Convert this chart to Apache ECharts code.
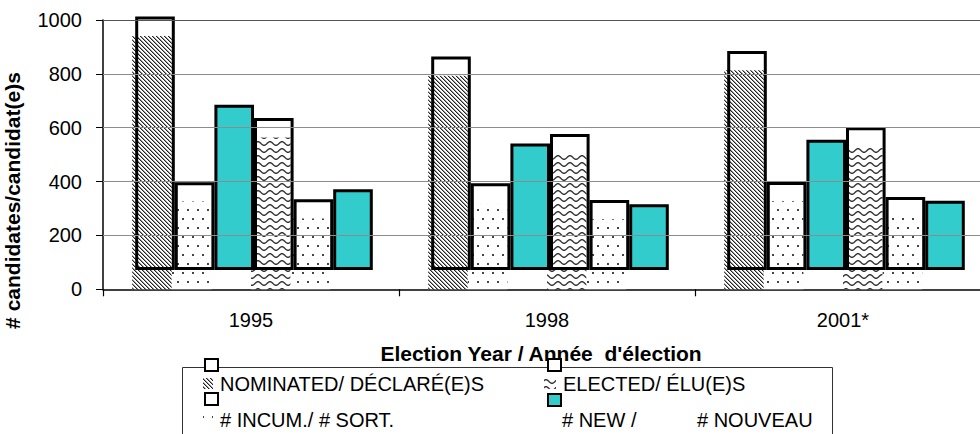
<!DOCTYPE html>
<html><head><meta charset="utf-8">
<script src="https://cdn.jsdelivr.net/npm/echarts@6/dist/echarts.min.js"></script>
<style>html,body{margin:0;padding:0;background:#fff}#c{width:980px;height:434px}</style>
</head><body><div id="c"></div>
<script>
// ---- data ----
const years = ['1995', '1998', '2001*'];
const nominated = [941, 793, 813];
const nominatedIncumbents = [326, 322, 327];
const nominatedNew = [614, 470, 484];
const elected = [564, 505, 530];
const electedIncumbents = [263, 260, 271];
const electedNew = [300, 244, 257];
const yMin = 0, yMax = 1000, yStep = 200;
const gridValues = [200, 400, 600, 800, 1000];

// ---- styles ----
const FONT = 'Liberation Sans, Arial, sans-serif';
const TEAL = '#33cccc';

function tile(w, h, draw) {
  const c = document.createElement('canvas');
  c.width = w; c.height = h;
  const g = c.getContext('2d');
  g.fillStyle = '#fff'; g.fillRect(0, 0, w, h);
  draw(g);
  return c;
}
const hatchTile = tile(4, 4, g => {
  for (let y = 0; y < 4; y++) {
    g.fillStyle = '#222'; g.fillRect(y % 4, y, 1, 1);
    g.fillStyle = '#999'; g.fillRect((y + 1) % 4, y, 1, 1);
  }
});
const dotsTile = tile(10, 18, g => {
  g.fillStyle = '#f3f3f3';
  g.fillRect(0, 6, 1, 1); g.fillRect(5, 15, 1, 1); g.fillRect(6, 6, 1, 1); g.fillRect(1, 14, 1, 1);
  g.fillStyle = '#444';
  g.fillRect(2, 2, 2, 2); g.fillRect(7, 11, 2, 2);
});
const waveTile = tile(12, 7, g => {
  g.strokeStyle = '#333'; g.lineWidth = 1.4;
  g.beginPath();
  for (let x = -1; x <= 13; x += 0.5) {
    const y = 3.5 - 1.8 * Math.cos(2 * Math.PI * (x - 6) / 12);
    if (x === -1) g.moveTo(x, y); else g.lineTo(x, y);
  }
  g.stroke();
});
const pat = c => ({ image: c, repeat: 'repeat' });

const BAR_W = 39.6;
function backBar(name, data, fill) {
  return { name, type: 'bar', xAxisIndex: 0, yAxisIndex: 0, data, barWidth: BAR_W, barGap: '0%',
    itemStyle: { color: fill } };
}
function frontBar(name, data, fill) {
  return { name, type: 'bar', xAxisIndex: 1, yAxisIndex: 1, data, barWidth: BAR_W, barGap: '0%',
    itemStyle: { color: fill, borderColor: '#000', borderWidth: 3 } };
}
const clear = 'rgba(0,0,0,0)';
const off = { show: false };

const chart = echarts.init(document.getElementById('c'), null, { renderer: 'svg' });
chart.setOption({
  animation: false,
  grid: [
    { left: 103, width: 888, top: 20, height: 269.3, outerBoundsMode: 'none' },
    { left: 106, width: 888, top: 0.7, height: 269.3, outerBoundsMode: 'none' }
  ],
  xAxis: [
    { gridIndex: 0, type: 'category', data: years,
      axisLine: { show: true, lineStyle: { color: '#000', width: 1.5 } },
      axisTick: { show: true, length: 7, lineStyle: { color: '#000', width: 1.2 } },
      axisLabel: { color: '#000', fontSize: 20, fontFamily: FONT, margin: 21 },
      splitLine: { show: false }, splitArea: { show: false }, minorSplitLine: { show: false }, axisPointer: { show: false } },
    { gridIndex: 1, type: 'category', data: years, show: false,
      axisLine: { show: false }, axisTick: { show: false }, axisLabel: { show: false },
      splitLine: { show: false }, splitArea: { show: false }, axisPointer: { show: false } }
  ],
  yAxis: [
    { gridIndex: 0, type: 'value', min: yMin, max: yMax, interval: yStep,
      axisLine: { show: true, lineStyle: { color: '#000', width: 1.5 } },
      axisTick: { show: true, length: 7, lineStyle: { color: '#000', width: 1 } },
      axisLabel: { color: '#000', fontSize: 20, fontFamily: FONT, margin: 21, formatter: v => String(v) },
      splitLine: { show: false }, splitArea: { show: false } },
    { gridIndex: 1, type: 'value', min: yMin, max: yMax, interval: yStep, show: false,
      axisLine: { show: false }, axisTick: { show: false }, axisLabel: { show: false },
      splitLine: { show: false }, splitArea: { show: false } }
  ],
  series: [
    { name: 'gridlines', type: 'line', xAxisIndex: 0, yAxisIndex: 0, data: [], silent: true,
      markLine: { silent: true, symbol: 'none', animation: false, label: { show: false },
        lineStyle: { color: '#8c8c8c', width: 1, type: 'solid' },
        data: gridValues.map(v => ({ yAxis: v, lineStyle: { color: v === yMax ? '#555' : '#8c8c8c', width: 1, type: 'solid' } })) } },
    backBar('NOMINATED/ DÉCLARÉ(E)S', nominated, pat(hatchTile)),
    backBar('# INCUM./ # SORT.', nominatedIncumbents, pat(dotsTile)),
    backBar('# NEW / # NOUVEAU', nominatedNew, clear),
    backBar('ELECTED/ ÉLU(E)S', elected, pat(waveTile)),
    backBar('# INCUM./ # SORT. (elected)', electedIncumbents, pat(dotsTile)),
    backBar('# NEW / # NOUVEAU (elected)', electedNew, clear),
    frontBar('NOMINATED/ DÉCLARÉ(E)S', nominated, clear),
    frontBar('# INCUM./ # SORT.', nominatedIncumbents, clear),
    frontBar('# NEW / # NOUVEAU', nominatedNew, TEAL),
    frontBar('ELECTED/ ÉLU(E)S', elected, clear),
    frontBar('# INCUM./ # SORT. (elected)', electedIncumbents, clear),
    frontBar('# NEW / # NOUVEAU (elected)', electedNew, TEAL)
  ],
  graphic: [
    { type: 'text', x: 12, y: 200.5, rotation: Math.PI / 2, z: 10,
      style: { text: '# candidates/candidat(e)s', fill: '#000', font: 'bold 21px ' + FONT,
        textAlign: 'center', align: 'center', textVerticalAlign: 'middle', verticalAlign: 'middle' } },
    { type: 'text', x: 541, y: 353, z: 10,
      style: { text: "Election Year / Année  d'élection", fill: '#000', font: 'bold 21px ' + FONT,
        textAlign: 'center', align: 'center', textVerticalAlign: 'middle', verticalAlign: 'middle' } },
    { type: 'rect', z: 10, shape: { x: 182.5, y: 367.5, width: 650, height: 80 },
      style: { fill: 'none', stroke: '#333', lineWidth: 1 } },
    { type: 'rect', z: 11, shape: { x: 205, y: 359, width: 13, height: 12 }, style: { fill: '#fff', stroke: '#000', lineWidth: 2 } },
    { type: 'rect', z: 11, shape: { x: 203, y: 378, width: 10, height: 11 }, style: { fill: pat(hatchTile) } },
    { type: 'rect', z: 11, shape: { x: 205, y: 393, width: 13, height: 12 }, style: { fill: '#fff', stroke: '#000', lineWidth: 2 } },
    { type: 'rect', z: 11, shape: { x: 203, y: 413, width: 10, height: 10 }, style: { fill: pat(dotsTile) } },
    { type: 'rect', z: 11, shape: { x: 548, y: 359, width: 13, height: 12 }, style: { fill: '#fff', stroke: '#000', lineWidth: 2 } },
    { type: 'rect', z: 11, shape: { x: 544, y: 378, width: 12, height: 11 }, style: { fill: pat(waveTile) } },
    { type: 'rect', z: 11, shape: { x: 548, y: 394, width: 13, height: 12 }, style: { fill: TEAL, stroke: '#000', lineWidth: 2 } },
    { type: 'text', x: 220, y: 384, z: 11, style: { text: 'NOMINATED/ DÉCLARÉ(E)S', fill: '#000', font: '20px ' + FONT, textVerticalAlign: 'middle', verticalAlign: 'middle' } },
    { type: 'text', x: 220, y: 420, z: 11, style: { text: '# INCUM./ # SORT.', fill: '#000', font: '20px ' + FONT, textVerticalAlign: 'middle', verticalAlign: 'middle' } },
    { type: 'text', x: 563, y: 384, z: 11, style: { text: 'ELECTED/ ÉLU(E)S', fill: '#000', font: '20px ' + FONT, textVerticalAlign: 'middle', verticalAlign: 'middle' } },
    { type: 'text', x: 562, y: 420, z: 11, style: { text: '# NEW /', fill: '#000', font: '20px ' + FONT, textVerticalAlign: 'middle', verticalAlign: 'middle' } },
    { type: 'text', x: 697, y: 420, z: 11, style: { text: '# NOUVEAU', fill: '#000', font: '20px ' + FONT, textVerticalAlign: 'middle', verticalAlign: 'middle' } }
  ]
});
</script>
</body></html>
